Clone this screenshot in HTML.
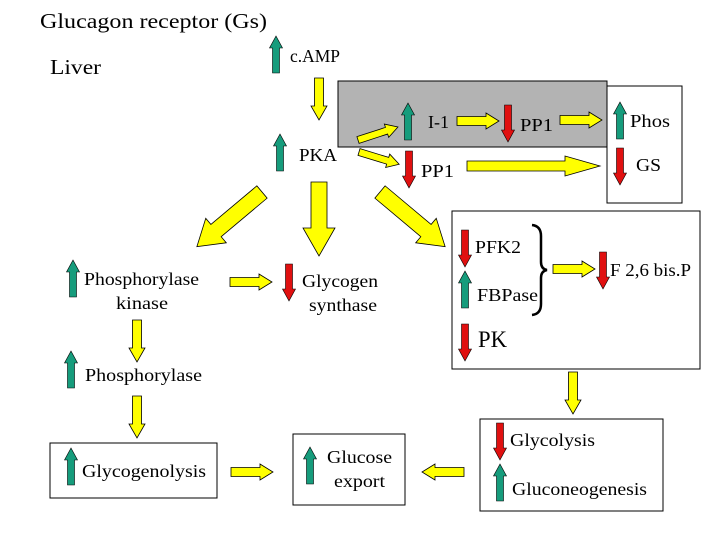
<!DOCTYPE html>
<html><head><meta charset="utf-8"><style>
html,body{margin:0;padding:0;background:#fff;}
svg{display:block;}
text{font-family:"Liberation Serif",serif;fill:#000;}
</style></head><body>
<svg width="720" height="540" viewBox="0 0 720 540" xmlns="http://www.w3.org/2000/svg">
<defs>
<polygon id="g" points="0,-3.5 25,-3.5 25,-6.5 37,0 25,6.5 25,3.5 0,3.5" fill="#169c7c" stroke="#000" stroke-width="0.6"/>
<polygon id="r" points="0,-3.5 25,-3.5 25,-6.5 37,0 25,6.5 25,3.5 0,3.5" fill="#e01010" stroke="#000" stroke-width="0.6"/>
<polygon id="ys" points="0,-4.5 29,-4.5 29,-8 42,0 29,8 29,4.5 0,4.5" fill="#ffff00" stroke="#000" stroke-width="0.8"/>
<polygon id="yv" points="0,-4.5 28,-4.5 28,-8 42,0 28,8 28,4.5 0,4.5" fill="#ffff00" stroke="#000" stroke-width="0.8"/>
<polygon id="yb" points="0,-8 60,-8 60,-16 85,0 60,16 60,8 0,8" fill="#ffff00" stroke="#000" stroke-width="0.8"/>
</defs>

<text x="40" y="28" font-size="21" textLength="227" lengthAdjust="spacingAndGlyphs">Glucagon receptor (Gs)</text>
<text x="50" y="74" font-size="21" textLength="51" lengthAdjust="spacingAndGlyphs">Liver</text>

<use href="#g" transform="translate(276,73) rotate(-90)"/>
<text x="290" y="62" font-size="18" textLength="50" lengthAdjust="spacingAndGlyphs">c.AMP</text>
<use href="#yv" transform="translate(319,78) rotate(90)"/>

<rect x="338" y="81" width="269" height="66" fill="#b3b3b3" stroke="#000" stroke-width="1"/>
<rect x="607" y="86" width="75" height="117" fill="#fff" stroke="#000" stroke-width="1"/>

<use href="#g" transform="translate(408,140) rotate(-90)"/>
<text x="428" y="128" font-size="18" textLength="21" lengthAdjust="spacingAndGlyphs">I-1</text>
<use href="#ys" transform="translate(457,121)"/>
<use href="#r" transform="translate(508,105) rotate(90)"/>
<text x="520" y="131" font-size="18" textLength="33" lengthAdjust="spacingAndGlyphs">PP1</text>
<use href="#ys" transform="translate(560,120)"/>
<use href="#g" transform="translate(620,139) rotate(-90)"/>
<text x="630" y="127" font-size="18" textLength="40" lengthAdjust="spacingAndGlyphs">Phos</text>
<use href="#r" transform="translate(620,148) rotate(90)"/>
<text x="636" y="171" font-size="18" textLength="25" lengthAdjust="spacingAndGlyphs">GS</text>

<use href="#g" transform="translate(280,171) rotate(-90)"/>
<text x="299" y="161" font-size="18" textLength="38" lengthAdjust="spacingAndGlyphs">PKA</text>
<g transform="translate(358,140) rotate(-18)"><polygon points="0,-3.5 30,-3.5 30,-7 42,0 30,7 30,3.5 0,3.5" fill="#ffff00" stroke="#000" stroke-width="0.8"/></g>
<g transform="translate(359,152) rotate(17)"><polygon points="0,-3.5 30,-3.5 30,-7 42,0 30,7 30,3.5 0,3.5" fill="#ffff00" stroke="#000" stroke-width="0.8"/></g>
<use href="#r" transform="translate(409,151) rotate(90)"/>
<text x="421" y="177" font-size="18" textLength="33" lengthAdjust="spacingAndGlyphs">PP1</text>
<polygon points="467,161 565,161 565,156 600,166 565,176 565,171 467,171" fill="#ffff00" stroke="#000" stroke-width="0.8"/>

<use href="#yb" transform="translate(262,192) rotate(140)"/>
<polygon points="311,182 327,182 327,228 335,228 319,256 303,228 311,228" fill="#ffff00" stroke="#000" stroke-width="0.8"/>
<use href="#yb" transform="translate(380,192) rotate(40)"/>

<rect x="452" y="211" width="248" height="158" fill="#fff" stroke="#000" stroke-width="1"/>
<use href="#r" transform="translate(465,230) rotate(90)"/>
<text x="475" y="253" font-size="18" textLength="46" lengthAdjust="spacingAndGlyphs">PFK2</text>
<use href="#g" transform="translate(465,308) rotate(-90)"/>
<text x="477" y="301" font-size="18" textLength="61" lengthAdjust="spacingAndGlyphs">FBPase</text>
<path d="M532,225 Q541,226 541,236 L541,262 Q541,269 547,270 Q541,271 541,278 L541,304 Q541,314 532,315" fill="none" stroke="#000" stroke-width="2.5"/>
<use href="#ys" transform="translate(553,269)"/>
<use href="#r" transform="translate(603,252) rotate(90)"/>
<text x="610" y="276" font-size="18" textLength="81" lengthAdjust="spacingAndGlyphs">F 2,6 bis.P</text>
<use href="#r" transform="translate(465,324) rotate(90)"/>
<text x="478" y="347" font-size="23" textLength="29" lengthAdjust="spacingAndGlyphs">PK</text>

<use href="#yv" transform="translate(573,372) rotate(90)"/>
<rect x="480" y="419" width="183" height="92" fill="#fff" stroke="#000" stroke-width="1"/>
<use href="#r" transform="translate(500,423) rotate(90)"/>
<text x="510" y="446" font-size="18" textLength="85" lengthAdjust="spacingAndGlyphs">Glycolysis</text>
<use href="#g" transform="translate(500,501) rotate(-90)"/>
<text x="512" y="495" font-size="18" textLength="135" lengthAdjust="spacingAndGlyphs">Gluconeogenesis</text>

<use href="#ys" transform="translate(464,472) rotate(180)"/>
<rect x="293" y="434" width="112" height="71" fill="#fff" stroke="#000" stroke-width="1"/>
<use href="#g" transform="translate(310,484) rotate(-90)"/>
<text x="327" y="463" font-size="18" textLength="65" lengthAdjust="spacingAndGlyphs">Glucose</text>
<text x="334" y="487" font-size="18" textLength="51" lengthAdjust="spacingAndGlyphs">export</text>
<use href="#ys" transform="translate(231,472)"/>
<rect x="50" y="443" width="167" height="55" fill="#fff" stroke="#000" stroke-width="1"/>
<use href="#g" transform="translate(71,485) rotate(-90)"/>
<text x="82" y="477" font-size="18" textLength="124" lengthAdjust="spacingAndGlyphs">Glycogenolysis</text>

<use href="#g" transform="translate(73,297) rotate(-90)"/>
<text x="84" y="285" font-size="18" textLength="115" lengthAdjust="spacingAndGlyphs">Phosphorylase</text>
<text x="116" y="309" font-size="18" textLength="52" lengthAdjust="spacingAndGlyphs">kinase</text>
<use href="#ys" transform="translate(230,282)"/>
<use href="#r" transform="translate(289,264) rotate(90)"/>
<text x="302" y="287" font-size="18" textLength="76" lengthAdjust="spacingAndGlyphs">Glycogen</text>
<text x="309" y="311" font-size="18" textLength="68" lengthAdjust="spacingAndGlyphs">synthase</text>
<use href="#yv" transform="translate(137,320) rotate(90)"/>
<use href="#g" transform="translate(71,388) rotate(-90)"/>
<text x="85" y="381" font-size="18" textLength="117" lengthAdjust="spacingAndGlyphs">Phosphorylase</text>
<use href="#yv" transform="translate(137,396) rotate(90)"/>
</svg>
</body></html>
